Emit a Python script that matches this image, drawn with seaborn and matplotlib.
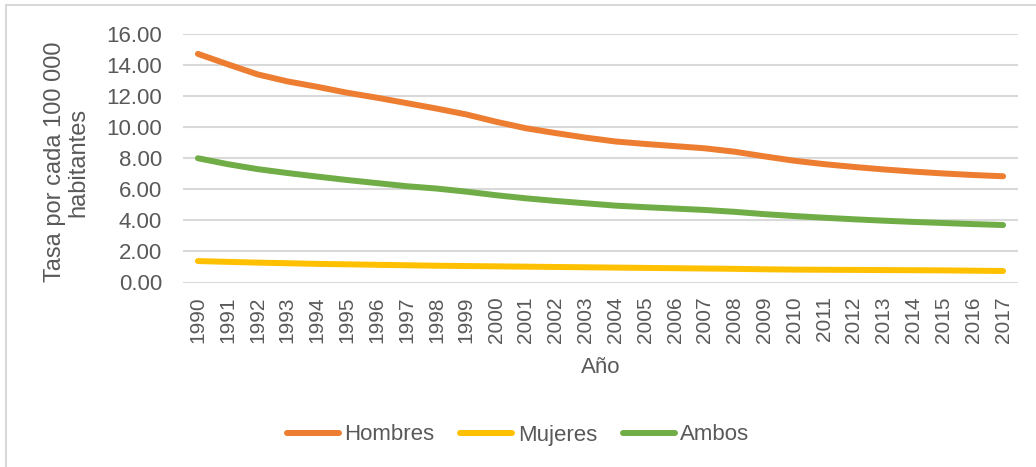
import matplotlib
matplotlib.use("Agg")
import matplotlib.pyplot as plt
import matplotlib.patches as mpatches
import seaborn as sns
import pandas as pd

years = [str(y) for y in range(1990, 2018)]
hombres = [14.72, 14.05, 13.40, 12.95, 12.60, 12.22, 11.90, 11.55, 11.20, 10.82,
           10.35, 9.93, 9.62, 9.33, 9.08, 8.92, 8.78, 8.64, 8.42, 8.12,
           7.84, 7.62, 7.44, 7.28, 7.14, 7.02, 6.92, 6.84]
mujeres = [1.38, 1.33, 1.28, 1.24, 1.20, 1.17, 1.14, 1.11, 1.08, 1.06,
           1.04, 1.02, 1.00, 0.98, 0.96, 0.94, 0.92, 0.90, 0.88, 0.85,
           0.83, 0.82, 0.81, 0.80, 0.79, 0.78, 0.76, 0.74]
ambos = [8.00, 7.62, 7.30, 7.05, 6.82, 6.60, 6.40, 6.20, 6.05, 5.85,
         5.62, 5.42, 5.25, 5.10, 4.95, 4.85, 4.76, 4.67, 4.55, 4.40,
         4.28, 4.17, 4.07, 3.98, 3.90, 3.83, 3.76, 3.70]
series_names = ["Hombres", "Mujeres", "Ambos"]
colors = ["#ED7D31", "#FFC000", "#70AD47"]
y_ticks = [0, 2, 4, 6, 8, 10, 12, 14, 16]

df = pd.DataFrame({
    "Año": years * 3,
    "Tasa": hombres + mujeres + ambos,
    "Serie": [series_names[0]] * len(years) + [series_names[1]] * len(years) + [series_names[2]] * len(years),
})

sns.set_theme(style="white")
plt.rcParams["font.family"] = ["Liberation Sans", "DejaVu Sans"]
TXT = "#595959"
GRID = "#D9D9D9"

fig = plt.figure(figsize=(10.36, 4.67), dpi=100)
ax = fig.add_axes([183 / 1036, 1 - 282.5 / 467, (1018 - 183) / 1036, (282.5 - 34) / 467])

sns.lineplot(data=df, x="Año", y="Tasa", hue="Serie", hue_order=series_names,
             palette=colors, linewidth=4.3, ax=ax, sort=False, legend=True)
for ln in ax.get_lines():
    ln.set_solid_capstyle("round")
    ln.set_solid_joinstyle("round")

ax.set_xlim(-0.5, len(years) - 0.5)
ax.set_ylim(0, 16)
ax.set_yticks(y_ticks)
ax.set_yticklabels([f"{v:.2f}" for v in y_ticks])
ax.grid(axis="y", color=GRID, linewidth=1.5)
ax.grid(axis="x", visible=False)
ax.set_axisbelow(True)
for s in ax.spines.values():
    s.set_visible(False)
ax.tick_params(axis="both", length=0, colors=TXT)
ax.tick_params(axis="y", labelsize=16, pad=15)
ax.tick_params(axis="x", labelsize=15, pad=10, labelrotation=90)

ax.set_xlabel("Año", fontsize=16, color=TXT, labelpad=10)
ax.set_ylabel("")
fig.text(67 / 1036, 1 - 162 / 467, "Tasa por cada 100 000\nhabitantes", rotation=90,
         ha="center", va="center", multialignment="center", fontsize=17, color=TXT,
         linespacing=1.08)

handles, labels = ax.get_legend_handles_labels()
ax.legend_.remove()
leg = fig.legend(handles, labels, loc="center", bbox_to_anchor=(518 / 1036, 1 - 435 / 467),
                 ncol=3, frameon=False, fontsize=16, handlelength=2.35, handletextpad=0.25,
                 columnspacing=1.15, labelcolor=TXT)
for h in leg.get_lines():
    h.set_linewidth(4.3)
    h.set_solid_capstyle("round")

fig.patches.append(mpatches.Rectangle((6 / 1036, -0.1), 1.2, 1 - 5 / 467 + 0.1,
                                      transform=fig.transFigure, fill=False,
                                      edgecolor=GRID, linewidth=1.5, figure=fig))

fig.savefig("out.png", dpi=100, facecolor="white")
